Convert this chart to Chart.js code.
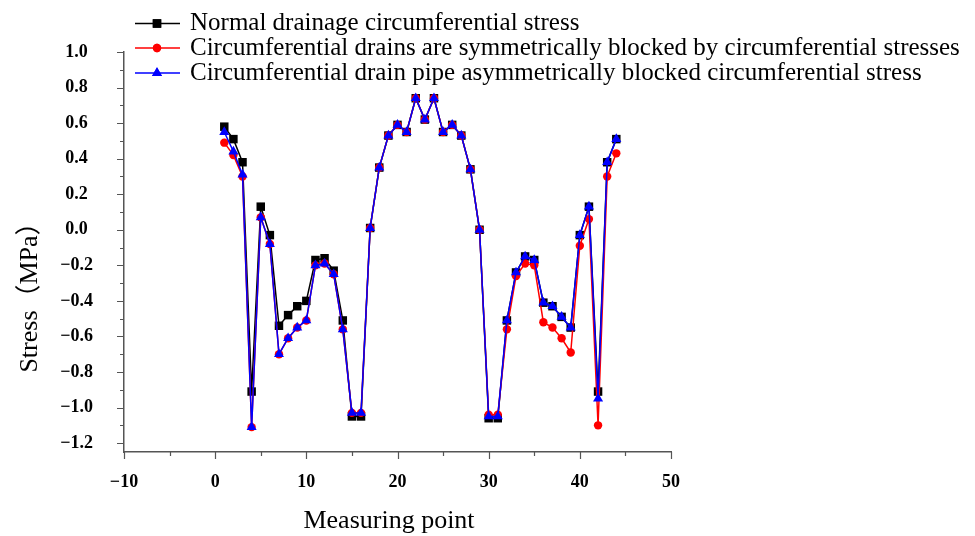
<!DOCTYPE html>
<html>
<head>
<meta charset="utf-8">
<script src="https://cdn.jsdelivr.net/npm/chart.js@4"></script>
<style>
  html, body { margin: 0; padding: 0; background: #fff; }
  #wrap { width: 975px; height: 536px; position: relative; }
</style>
</head>
<body>
<div id="wrap"><canvas id="myChart" width="975" height="536"></canvas></div>
<script>
// measuring points 1..44
const points = [1, 2, 3, 4, 5, 6, 7, 8, 9, 10, 11, 12, 13, 14, 15, 16, 17, 18, 19, 20, 21, 22,
  23, 24, 25, 26, 27, 28, 29, 30, 31, 32, 33, 34, 35, 36, 37, 38, 39, 40, 41, 42, 43, 44];

// stress values (MPa)
const normalStress = [0.58, 0.51, 0.38, -0.91, 0.13, -0.03, -0.54, -0.48, -0.43, -0.40, -0.17,
  -0.16, -0.23, -0.51, -1.05, -1.05, 0.01, 0.35, 0.53, 0.59, 0.55, 0.74, 0.62, 0.74, 0.55, 0.59,
  0.53, 0.34, 0.00, -1.06, -1.06, -0.51, -0.24, -0.15, -0.17, -0.41, -0.43, -0.49, -0.55, -0.03,
  0.13, -0.91, 0.38, 0.51];
const symBlocked = [0.49, 0.42, 0.30, -1.11, 0.07, -0.08, -0.70, -0.61, -0.55, -0.51, -0.20,
  -0.19, -0.25, -0.56, -1.03, -1.03, 0.01, 0.35, 0.53, 0.59, 0.55, 0.74, 0.62, 0.74, 0.55, 0.59,
  0.53, 0.34, 0.00, -1.04, -1.04, -0.56, -0.26, -0.19, -0.20, -0.52, -0.55, -0.61, -0.69, -0.09,
  0.06, -1.10, 0.30, 0.43];
const asymBlocked = [0.55, 0.44, 0.31, -1.11, 0.07, -0.08, -0.70, -0.61, -0.55, -0.51, -0.20,
  -0.19, -0.25, -0.56, -1.03, -1.03, 0.01, 0.35, 0.53, 0.59, 0.55, 0.74, 0.62, 0.74, 0.55, 0.59,
  0.53, 0.34, 0.00, -1.05, -1.05, -0.51, -0.24, -0.15, -0.17, -0.41, -0.43, -0.49, -0.55, -0.03,
  0.13, -0.95, 0.38, 0.51];

const seriesNames = [
  'Normal drainage circumferential stress',
  'Circumferential drains are symmetrically blocked by circumferential stresses',
  'Circumferential drain pipe asymmetrically blocked circumferential stress'
];

// axis ticks
const xMajorTicks = [-10, 0, 10, 20, 30, 40, 50];
const xMinorTicks = [-5, 5, 15, 25, 35, 45];
const yMajorTicks = [-1.2, -1.0, -0.8, -0.6, -0.4, -0.2, 0.0, 0.2, 0.4, 0.6, 0.8, 1.0];
const yMinorTicks = [-1.1, -0.9, -0.7, -0.5, -0.3, -0.1, 0.1, 0.3, 0.5, 0.7, 0.9];

const serif = '"Liberation Serif", "Times New Roman", serif';
const axisGrey = '#555';

const toXY = (vals) => vals.map((v, i) => ({ x: points[i], y: v }));
const minusFmt = (s) => s.replace('-', '\u2212');

const styles = [
  { color: '#000000', pointStyle: 'rect', radius: 6 },
  { color: '#ff0000', pointStyle: 'circle', radius: 4.2 },
  { color: '#0000ff', pointStyle: 'triangle', radius: 5.8 }
];

// ticks, axis titles and the legend drawn on top of the chart
const extras = {
  id: 'extras',
  afterDraw(chart) {
    const { ctx, scales: { x, y } } = chart;
    ctx.save();
    ctx.strokeStyle = axisGrey;
    ctx.lineWidth = 1.2;
    const yAxisX = x.left;
    const xAxisY = y.bottom;
    ctx.beginPath();
    yMajorTicks.forEach(v => { const py = Math.round(y.getPixelForValue(v)) + 0.5; ctx.moveTo(yAxisX, py); ctx.lineTo(yAxisX - 7, py); });
    yMinorTicks.forEach(v => { const py = Math.round(y.getPixelForValue(v)) + 0.5; ctx.moveTo(yAxisX, py); ctx.lineTo(yAxisX - 4, py); });
    xMajorTicks.forEach(v => { const px = Math.round(x.getPixelForValue(v)) + 0.5; ctx.moveTo(px, xAxisY); ctx.lineTo(px, xAxisY + 7); });
    xMinorTicks.forEach(v => { const px = Math.round(x.getPixelForValue(v)) + 0.5; ctx.moveTo(px, xAxisY); ctx.lineTo(px, xAxisY + 4); });
    ctx.stroke();

    // axis titles
    ctx.fillStyle = '#000';
    ctx.font = '26px ' + serif;
    ctx.textAlign = 'center';
    ctx.textBaseline = 'alphabetic';
    ctx.fillText('Measuring point', 389, 528);
    ctx.save();
    ctx.translate(37, 291);
    ctx.rotate(-Math.PI / 2);
    ctx.font = '26px ' + serif + ', "Noto Sans CJK SC"';
    ctx.fillText('Stress（MPa）', 0, 0);
    ctx.restore();

    // legend
    const rows = [23.5, 48, 73];
    const bases = [30, 55, 80];
    ctx.textAlign = 'left';
    ctx.font = '25px ' + serif;
    seriesNames.forEach((name, i) => {
      const st = styles[i];
      ctx.strokeStyle = st.color;
      ctx.lineWidth = 1.5;
      ctx.beginPath();
      ctx.moveTo(135, rows[i]);
      ctx.lineTo(180, rows[i]);
      ctx.stroke();
      ctx.fillStyle = st.color;
      Chart.helpers.drawPoint(ctx, { pointStyle: st.pointStyle, radius: st.radius, rotation: 0, borderWidth: 0 }, 157, rows[i]);
      ctx.fill();
      ctx.fillStyle = '#000';
      ctx.fillText(name, 190, bases[i]);
    });
    ctx.restore();
  }
};

const datasets = [normalStress, symBlocked, asymBlocked].map((vals, i) => ({
  label: seriesNames[i],
  data: toXY(vals),
  showLine: true,
  borderColor: styles[i].color,
  backgroundColor: styles[i].color,
  borderWidth: 1.5,
  pointStyle: styles[i].pointStyle,
  pointRadius: styles[i].radius,
  pointBorderWidth: 0,
  order: 3 - i
}));

const ctx = document.getElementById('myChart').getContext('2d');
new Chart(ctx, {
  type: 'scatter',
  data: { datasets },
  options: {
    responsive: false,
    animation: false,
    layout: { padding: { left: 54, right: 304, top: 52, bottom: 0 } },
    plugins: { legend: { display: false }, tooltip: { enabled: false } },
    scales: {
      x: {
        type: 'linear',
        min: -10,
        max: 50,
        grid: { display: false, drawTicks: false },
        border: { display: true, color: axisGrey, width: 1.5 },
        afterBuildTicks: (s) => { s.ticks = xMajorTicks.map(v => ({ value: v })); },
        afterFit: (s) => { s.height = 84; },
        ticks: {
          padding: 20,
          color: '#000',
          font: { family: serif, size: 18, weight: 'bold' },
          callback: (v) => minusFmt(String(v))
        }
      },
      y: {
        type: 'linear',
        min: -1.25,
        max: 1.0,
        grid: { display: false, drawTicks: false },
        border: { display: true, color: axisGrey, width: 1.5 },
        afterBuildTicks: (s) => { s.ticks = yMajorTicks.map(v => ({ value: v })); },
        afterFit: (s) => { s.width = 70; },
        ticks: {
          padding: 31,
          crossAlign: 'center',
          color: '#000',
          font: { family: serif, size: 18, weight: 'bold' },
          callback: (v) => minusFmt(Number(v).toFixed(1))
        }
      }
    }
  },
  plugins: [extras]
});
</script>
</body>
</html>
